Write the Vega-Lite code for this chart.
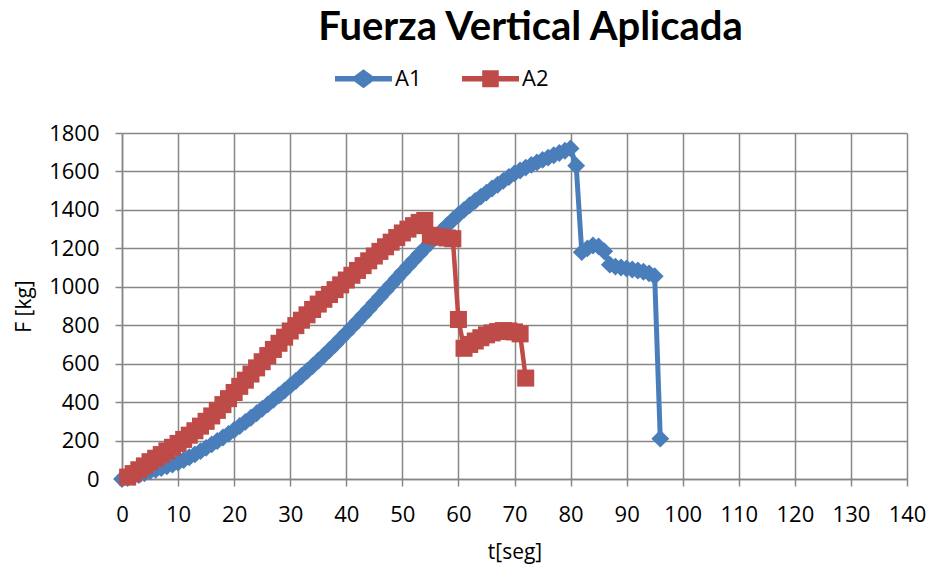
{
  "$schema": "https://vega.github.io/schema/vega-lite/v6.json",
  "width": 785,
  "height": 346,
  "autosize": {"type": "none"},
  "padding": {"left": 122, "top": 133, "right": 22, "bottom": 88},
  "background": "white",
  "title": {
    "text": "Fuerza Vertical  Aplicada",
    "font": "Lato",
    "fontSize": 40,
    "fontWeight": "bold",
    "color": "#000000",
    "anchor": "middle",
    "frame": "group",
    "baseline": "alphabetic",
    "offset": -30,
    "dx": 16
  },
  "datasets": {
    "d": [
      {"s":"A1","t":0,"F":0},{"s":"A1","t":1,"F":5},{"s":"A1","t":2,"F":12},{"s":"A1","t":3,"F":20},{"s":"A1","t":4,"F":30},
      {"s":"A1","t":5,"F":40},{"s":"A1","t":6,"F":48},{"s":"A1","t":7,"F":57},{"s":"A1","t":8,"F":66},{"s":"A1","t":9,"F":75},
      {"s":"A1","t":10,"F":86},{"s":"A1","t":11,"F":99},{"s":"A1","t":12,"F":113},{"s":"A1","t":13,"F":128},{"s":"A1","t":14,"F":145},
      {"s":"A1","t":15,"F":162},{"s":"A1","t":16,"F":180},{"s":"A1","t":17,"F":198},{"s":"A1","t":18,"F":216},{"s":"A1","t":19,"F":235},
      {"s":"A1","t":20,"F":255},{"s":"A1","t":21,"F":276},{"s":"A1","t":22,"F":297},{"s":"A1","t":23,"F":319},{"s":"A1","t":24,"F":342},
      {"s":"A1","t":25,"F":365},{"s":"A1","t":26,"F":388},{"s":"A1","t":27,"F":412},{"s":"A1","t":28,"F":436},{"s":"A1","t":29,"F":460},
      {"s":"A1","t":30,"F":485},{"s":"A1","t":31,"F":510},{"s":"A1","t":32,"F":536},{"s":"A1","t":33,"F":562},{"s":"A1","t":34,"F":588},
      {"s":"A1","t":35,"F":615},{"s":"A1","t":36,"F":643},{"s":"A1","t":37,"F":671},{"s":"A1","t":38,"F":700},{"s":"A1","t":39,"F":730},
      {"s":"A1","t":40,"F":760},{"s":"A1","t":41,"F":790},{"s":"A1","t":42,"F":821},{"s":"A1","t":43,"F":852},{"s":"A1","t":44,"F":883},
      {"s":"A1","t":45,"F":915},{"s":"A1","t":46,"F":947},{"s":"A1","t":47,"F":979},{"s":"A1","t":48,"F":1011},{"s":"A1","t":49,"F":1043},
      {"s":"A1","t":50,"F":1075},{"s":"A1","t":51,"F":1107},{"s":"A1","t":52,"F":1138},{"s":"A1","t":53,"F":1169},{"s":"A1","t":54,"F":1200},
      {"s":"A1","t":55,"F":1230},{"s":"A1","t":56,"F":1260},{"s":"A1","t":57,"F":1290},{"s":"A1","t":58,"F":1320},{"s":"A1","t":59,"F":1348},
      {"s":"A1","t":60,"F":1375},{"s":"A1","t":61,"F":1400},{"s":"A1","t":62,"F":1424},{"s":"A1","t":63,"F":1447},{"s":"A1","t":64,"F":1469},
      {"s":"A1","t":65,"F":1490},{"s":"A1","t":66,"F":1511},{"s":"A1","t":67,"F":1531},{"s":"A1","t":68,"F":1551},{"s":"A1","t":69,"F":1571},
      {"s":"A1","t":70,"F":1590},{"s":"A1","t":71,"F":1605},{"s":"A1","t":72,"F":1620},{"s":"A1","t":73,"F":1634},{"s":"A1","t":74,"F":1647},
      {"s":"A1","t":75,"F":1660},{"s":"A1","t":76,"F":1672},{"s":"A1","t":77,"F":1684},{"s":"A1","t":78,"F":1696},{"s":"A1","t":79,"F":1708},
      {"s":"A1","t":80,"F":1720},{"s":"A1","t":81,"F":1630},{"s":"A1","t":82,"F":1180},{"s":"A1","t":83,"F":1200},{"s":"A1","t":84,"F":1215},
      {"s":"A1","t":85,"F":1210},{"s":"A1","t":86,"F":1185},{"s":"A1","t":87,"F":1115},{"s":"A1","t":88,"F":1105},{"s":"A1","t":89,"F":1100},
      {"s":"A1","t":90,"F":1095},{"s":"A1","t":91,"F":1090},{"s":"A1","t":92,"F":1085},{"s":"A1","t":93,"F":1078},{"s":"A1","t":94,"F":1070},
      {"s":"A1","t":95,"F":1055},{"s":"A1","t":96,"F":210},
      {"s":"A2","t":1,"F":10},{"s":"A2","t":2,"F":28},{"s":"A2","t":3,"F":48},{"s":"A2","t":4,"F":68},
      {"s":"A2","t":5,"F":90},{"s":"A2","t":6,"F":108},{"s":"A2","t":7,"F":127},{"s":"A2","t":8,"F":146},{"s":"A2","t":9,"F":165},
      {"s":"A2","t":10,"F":185},{"s":"A2","t":11,"F":206},{"s":"A2","t":12,"F":228},{"s":"A2","t":13,"F":251},{"s":"A2","t":14,"F":275},
      {"s":"A2","t":15,"F":300},{"s":"A2","t":16,"F":328},{"s":"A2","t":17,"F":357},{"s":"A2","t":18,"F":387},{"s":"A2","t":19,"F":418},
      {"s":"A2","t":20,"F":450},{"s":"A2","t":21,"F":482},{"s":"A2","t":22,"F":514},{"s":"A2","t":23,"F":546},{"s":"A2","t":24,"F":578},
      {"s":"A2","t":25,"F":610},{"s":"A2","t":26,"F":642},{"s":"A2","t":27,"F":674},{"s":"A2","t":28,"F":706},{"s":"A2","t":29,"F":738},
      {"s":"A2","t":30,"F":770},{"s":"A2","t":31,"F":798},{"s":"A2","t":32,"F":826},{"s":"A2","t":33,"F":854},{"s":"A2","t":34,"F":882},
      {"s":"A2","t":35,"F":910},{"s":"A2","t":36,"F":935},{"s":"A2","t":37,"F":960},{"s":"A2","t":38,"F":985},{"s":"A2","t":39,"F":1010},
      {"s":"A2","t":40,"F":1035},{"s":"A2","t":41,"F":1060},{"s":"A2","t":42,"F":1085},{"s":"A2","t":43,"F":1110},{"s":"A2","t":44,"F":1135},
      {"s":"A2","t":45,"F":1160},{"s":"A2","t":46,"F":1184},{"s":"A2","t":47,"F":1208},{"s":"A2","t":48,"F":1232},{"s":"A2","t":49,"F":1256},
      {"s":"A2","t":50,"F":1280},{"s":"A2","t":51,"F":1300},{"s":"A2","t":52,"F":1318},{"s":"A2","t":53,"F":1335},{"s":"A2","t":54,"F":1345},
      {"s":"A2","t":55,"F":1268},{"s":"A2","t":56,"F":1262},{"s":"A2","t":57,"F":1258},{"s":"A2","t":58,"F":1254},{"s":"A2","t":59,"F":1250},
      {"s":"A2","t":60,"F":830},{"s":"A2","t":61,"F":680},{"s":"A2","t":62,"F":700},{"s":"A2","t":63,"F":718},{"s":"A2","t":64,"F":735},
      {"s":"A2","t":65,"F":750},{"s":"A2","t":66,"F":760},{"s":"A2","t":67,"F":767},{"s":"A2","t":68,"F":772},{"s":"A2","t":69,"F":770},
      {"s":"A2","t":70,"F":765},{"s":"A2","t":71,"F":755},{"s":"A2","t":72,"F":525}
    ]
  },
  "data": {"name": "d"},
  "encoding": {
    "x": {
      "field": "t", "type": "quantitative",
      "scale": {"domain": [0, 140], "nice": false, "zero": false},
      "axis": {
        "title": "t[seg]",
        "values": [0,10,20,30,40,50,60,70,80,90,100,110,120,130,140],
        "format": "d",
        "labelFlush": false,
        "labelOverlap": false,
        "labelPadding": 18,
        "titlePadding": 16
      }
    },
    "y": {
      "field": "F", "type": "quantitative",
      "scale": {"domain": [0, 1800], "nice": false},
      "axis": {
        "title": "F [kg]",
        "values": [0,200,400,600,800,1000,1200,1400,1600,1800],
        "format": "d",
        "labelFlush": false,
        "labelOverlap": false,
        "labelPadding": 16,
        "titlePadding": 14
      }
    },
    "color": {
      "field": "s", "type": "nominal",
      "scale": {"domain": ["A1", "A2"], "range": ["#4A7EBB", "#BE4B48"]},
      "legend": {
        "title": null,
        "orient": "none",
        "direction": "horizontal",
        "legendX": 213,
        "legendY": -83,
        "padding": 0,
        "symbolSize": 3249,
        "symbolType": "M-1,-0.1L1,-0.1L1,0.1L-1,0.1Z",
        "labelOffset": 3,
        "columnPadding": 40,
        "labelFont": "Open Sans",
        "labelFontSize": 22,
        "labelColor": "#000000",
        "encode": {
          "symbols": {
            "update": {
              "shape": [
                {"test": "datum.value === 'A1'", "value": "M-1,-0.1L-0.32,-0.1L0,-0.33L0.32,-0.1L1,-0.1L1,0.1L0.32,0.1L0,0.33L-0.32,0.1L-1,0.1Z"},
                {"value": "M-1,-0.1L-0.29,-0.1L-0.29,-0.3L0.29,-0.3L0.29,-0.1L1,-0.1L1,0.1L0.29,0.1L0.29,0.3L-0.29,0.3L-0.29,0.1L-1,0.1Z"}
              ],
              "fill": {"scale": "color", "field": "value"},
              "strokeWidth": {"value": 0},
              "opacity": {"value": 1}
            }
          }
        }
      }
    }
  },
  "layer": [
    {
      "transform": [{"filter": "datum.s === 'A1'"}],
      "mark": {"type": "line", "strokeWidth": 5, "strokeJoin": "round"},
      "encoding": {"order": {"field": "t"}}
    },
    {
      "transform": [{"filter": "datum.s === 'A1'"}],
      "mark": {"type": "point", "shape": "diamond", "filled": true, "size": 320, "opacity": 1, "strokeWidth": 0}
    },
    {
      "transform": [{"filter": "datum.s === 'A2'"}],
      "mark": {"type": "line", "strokeWidth": 4.5, "strokeJoin": "round"},
      "encoding": {"order": {"field": "t"}}
    },
    {
      "transform": [{"filter": "datum.s === 'A2'"}],
      "mark": {"type": "point", "shape": "square", "filled": true, "size": 290, "opacity": 1, "strokeWidth": 0}
    }
  ],
  "config": {
    "view": {"stroke": null},
    "axis": {
      "labelFont": "Open Sans",
      "labelFontSize": 22,
      "labelColor": "#000000",
      "titleFont": "Open Sans",
      "titleFontSize": 21,
      "titleFontWeight": "normal",
      "titleColor": "#000000",
      "gridColor": "#878787",
      "gridWidth": 1.5,
      "gridOpacity": 1,
      "domainColor": "#878787",
      "domainWidth": 1.5,
      "tickColor": "#878787",
      "tickWidth": 1.5,
      "tickSize": 7
    }
  }
}
